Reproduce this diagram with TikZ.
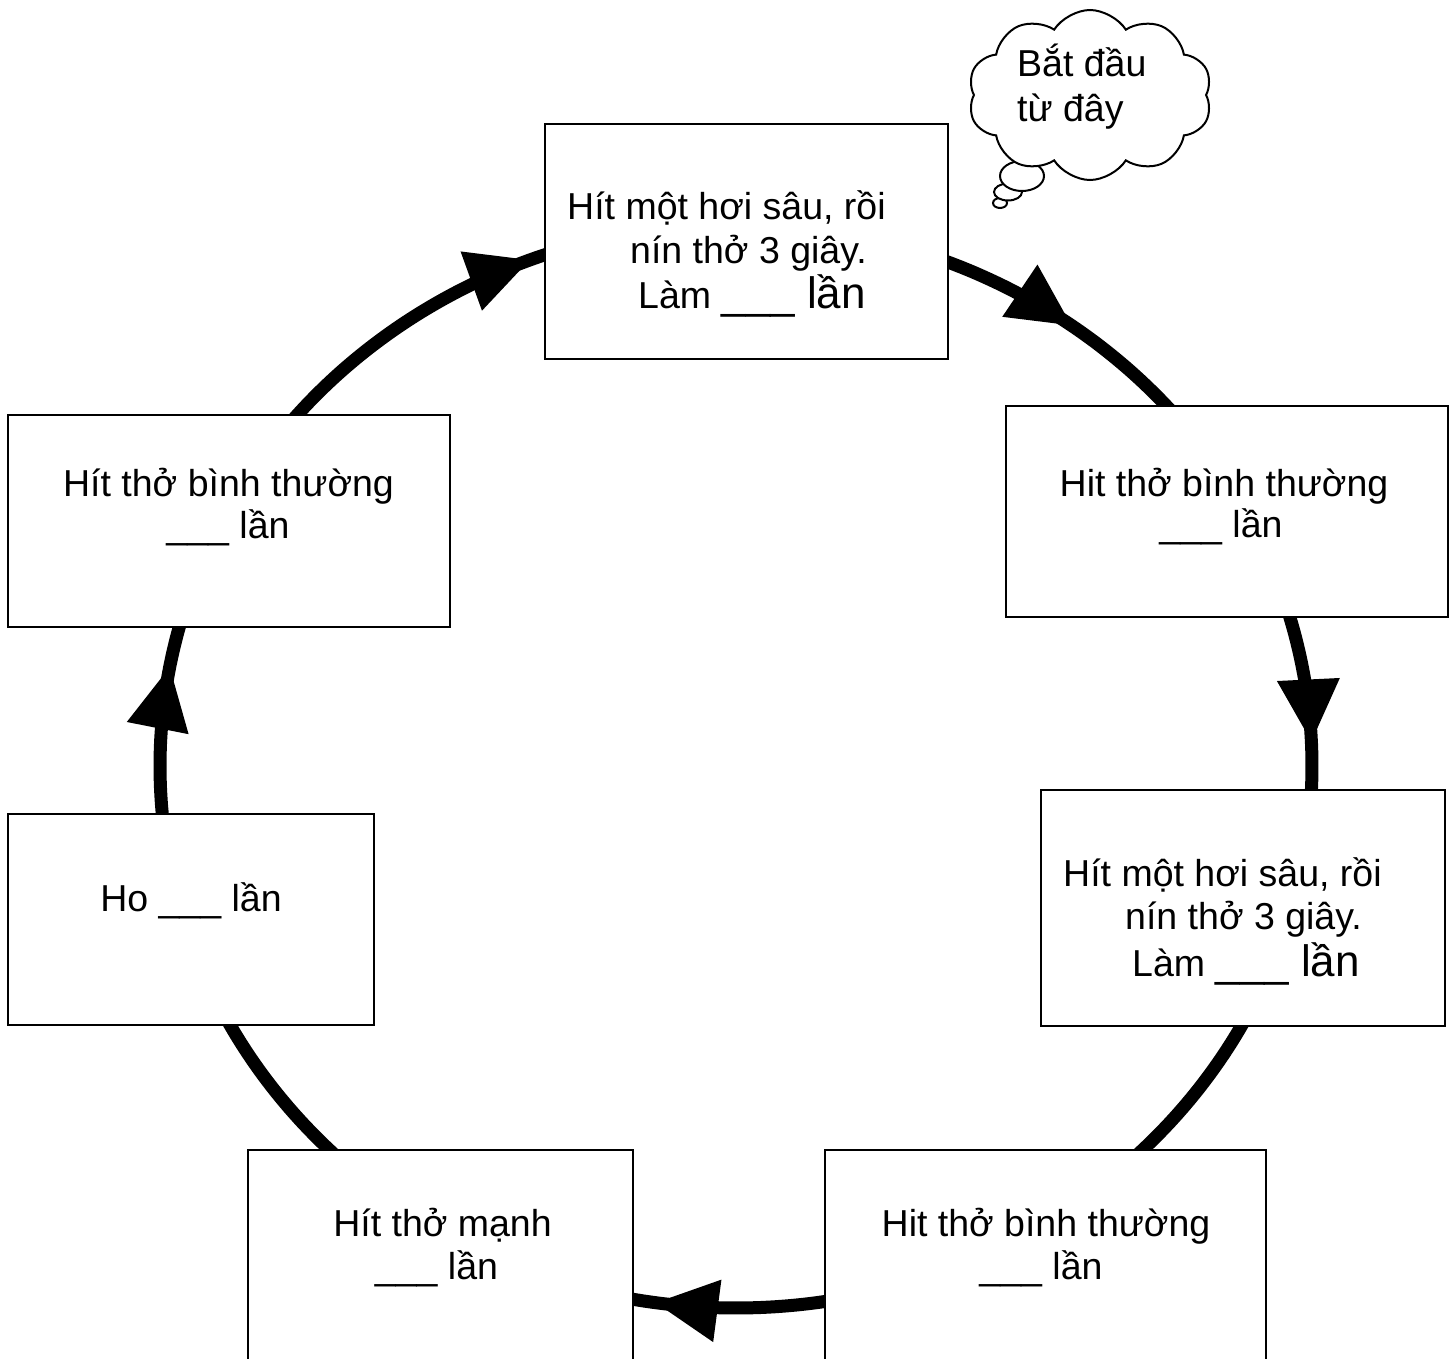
\documentclass[tikz,border=0pt]{standalone}
\usepackage{fontspec}
\setmainfont{Liberation Sans}
\usetikzlibrary{shapes.symbols,shapes.geometric}
\tikzset{
  box/.style={draw=black, line width=2pt, fill=white, inner sep=0pt},
  txt/.style={inner sep=0pt, font=\fontsize{37.5}{44}\selectfont},
  ring/.style={line width=13pt, black},
  bubble/.style={draw=black, line width=2pt, fill=white},
}
\newcommand{\blnk}{\_\_\_}
\newcommand{\biglan}{{\fontsize{44}{44}\selectfont \blnk\ lần}}
% arrow head on the ring: tip at angle #1
\newcommand{\ringhead}[1]{%
  \pgfmathsetmacro{\hTx}{736+576*cos(#1)}%
  \pgfmathsetmacro{\hTy}{766+542*sin(#1)}%
  \pgfmathsetmacro{\hPh}{atan2(542*cos(#1),-576*sin(#1))}%
  \pgfmathsetmacro{\hBx}{\hTx-62*cos(\hPh)}%
  \pgfmathsetmacro{\hBy}{\hTy-62*sin(\hPh)}%
  \pgfmathsetmacro{\hAx}{\hBx-31.5*sin(\hPh)}%
  \pgfmathsetmacro{\hAy}{\hBy+31.5*cos(\hPh)}%
  \pgfmathsetmacro{\hCx}{\hBx+31.5*sin(\hPh)}%
  \pgfmathsetmacro{\hCy}{\hBy-31.5*cos(\hPh)}%
  \fill[black] (\hTx,\hTy) -- (\hAx,\hAy) -- (\hCx,\hCy) -- cycle;%
}
\begin{document}
\begin{tikzpicture}[x=1pt,y=-1pt]
\useasboundingbox (0,0) rectangle (1454,1358);
\clip (0,0) rectangle (1454,1358);
\fill[white] (0,0) rectangle (1454,1358);

% ring segments (boxes drawn on top cover the ends)
\draw[ring] plot[domain=-142:-107, samples=40, smooth] ({736+576*cos(\x)},{766+542*sin(\x)});
\draw[ring] plot[domain=-70:-39, samples=40, smooth] ({736+576*cos(\x)},{766+542*sin(\x)});
\draw[ring] plot[domain=-18:5, samples=40, smooth] ({736+576*cos(\x)},{766+542*sin(\x)});
\draw[ring] plot[domain=26:47, samples=40, smooth] ({736+576*cos(\x)},{766+542*sin(\x)});
\draw[ring] plot[domain=79:102, samples=40, smooth] ({736+576*cos(\x)},{766+542*sin(\x)});
\draw[ring] plot[domain=133:154, samples=40, smooth] ({736+576*cos(\x)},{766+542*sin(\x)});
\draw[ring] plot[domain=173:197, samples=40, smooth] ({736+576*cos(\x)},{766+542*sin(\x)});
\ringhead{-111}
\ringhead{-54.4}
\ringhead{-2.6}
\ringhead{98}
\ringhead{190.5}

% boxes
\node[box, minimum width=403pt, minimum height=235pt] (b1) at (746.5,241.5) {};
\node[box, minimum width=442pt, minimum height=211pt] (b2) at (1227,511.5) {};
\node[box, minimum width=404pt, minimum height=236pt] (b3) at (1243,908) {};
\node[box, minimum width=441pt, minimum height=230pt] (b4) at (1045.5,1265) {};
\node[box, minimum width=385pt, minimum height=230pt] (b5) at (440.5,1265) {};
\node[box, minimum width=366pt, minimum height=211pt] (b6) at (191,919.5) {};
\node[box, minimum width=442pt, minimum height=212pt] (b7) at (229,521) {};

% texts
\node[txt, anchor=base west] (t1a) at (567,219) {Hít một hơi sâu, rồi};
\node[txt, anchor=base west] (t1b) at (630,263) {nín thở 3 giây.};
\node[txt, anchor=base west] (t1c) at (638,308) {Làm \biglan};

\node[txt, anchor=base] (t2a) at (1224,496) {Hit thở bình thường};
\node[txt, anchor=base] (t2b) at (1221,537) {\blnk\ lần};

\node[txt, anchor=base west] (t3a) at (1063,886) {Hít một hơi sâu, rồi};
\node[txt, anchor=base west] (t3b) at (1125,929) {nín thở 3 giây.};
\node[txt, anchor=base west] (t3c) at (1132,976) {Làm \biglan};

\node[txt, anchor=base] (t4a) at (1046,1236) {Hit thở bình thường};
\node[txt, anchor=base] (t4b) at (1041,1279) {\blnk\ lần};

\node[txt, anchor=base] (t5a) at (442.5,1236) {Hít thở mạnh};
\node[txt, anchor=base] (t5b) at (436.5,1279) {\blnk\ lần};

\node[txt, anchor=base] (t6a) at (191,911) {Ho \blnk\ lần};

\node[txt, anchor=base] (t7a) at (228.5,496) {Hít thở bình thường};
\node[txt, anchor=base] (t7b) at (228,538) {\blnk\ lần};

% thought cloud
\node[bubble, ellipse, minimum width=14pt, minimum height=10pt, inner sep=0pt] (p3) at (1000,203) {};
\node[bubble, ellipse, minimum width=28pt, minimum height=17pt, inner sep=0pt] (p2) at (1008,192) {};
\node[bubble, ellipse, minimum width=44pt, minimum height=30pt, inner sep=0pt] (p1) at (1022,176) {};
\node[bubble, cloud, cloud puffs=10, cloud puff arc=115, aspect=1.5,
      minimum width=244pt, minimum height=170pt, inner sep=0pt] (cl) at (1090,95) {};
\node[txt, anchor=base west] (c1) at (1017,76) {Bắt đầu};
\node[txt, anchor=base west] (c2) at (1017,121) {từ đây};
\end{tikzpicture}
\end{document}
